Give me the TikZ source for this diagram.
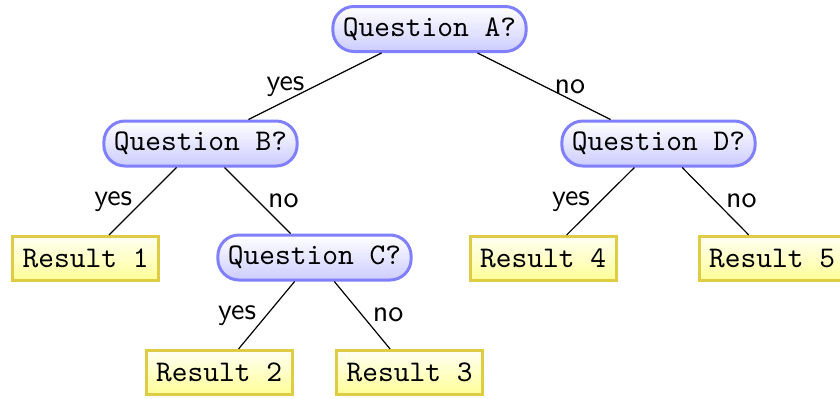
\documentclass[tikz,border=0pt]{standalone}
\definecolor{qborder}{RGB}{128,128,255}
\definecolor{rborder}{RGB}{221,204,68}
\tikzset{
  qnode/.style={draw=qborder, line width=1pt, rounded corners=7pt, top color=white, bottom color=blue!20, font=\ttfamily, minimum height=15pt, inner sep=3.333pt},
  rnode/.style={draw=rborder, line width=1pt, top color=yellow!5, bottom color=yellow!40, font=\ttfamily, minimum height=14.7pt, inner sep=3.333pt},
  lbl/.style={font=\sffamily},
  link/.style={draw=black, line width=0.4pt}
}
\begin{document}
\begin{tikzpicture}[x=0.33333pt,y=-0.33333pt]
\path[use as bounding box, clip] (0,0) rectangle (840,398);
\node[qnode] (A) at (429.5,29) {Question A?};
\node[qnode] (B) at (200.5,143.5) {Question B?};
\node[qnode] (D) at (658.5,143.5) {Question D?};
\node[qnode] (C) at (314.5,257.5) {Question C?};
\node[rnode] (R1) at (85.5,258.5) {Result 1};
\node[rnode] (R4) at (543,258.5) {Result 4};
\node[rnode] (R5) at (772,258.5) {Result 5};
\node[rnode] (R2) at (219,372.5) {Result 2};
\node[rnode] (R3) at (409.5,372.5) {Result 3};
\path[link] (A) -- node[left,lbl] {yes} (B);
\path[link] (A) -- node[right,lbl] {no} (D);
\path[link] (B) -- node[left,lbl] {yes} (R1);
\path[link] (B) -- node[right,lbl] {no} (C);
\path[link] (D) -- node[left,lbl] {yes} (R4);
\path[link] (D) -- node[right,lbl] {no} (R5);
\path[link] (C) -- node[left,lbl] {yes} (R2);
\path[link] (C) -- node[right,lbl] {no} (R3);
\end{tikzpicture}
\end{document}
